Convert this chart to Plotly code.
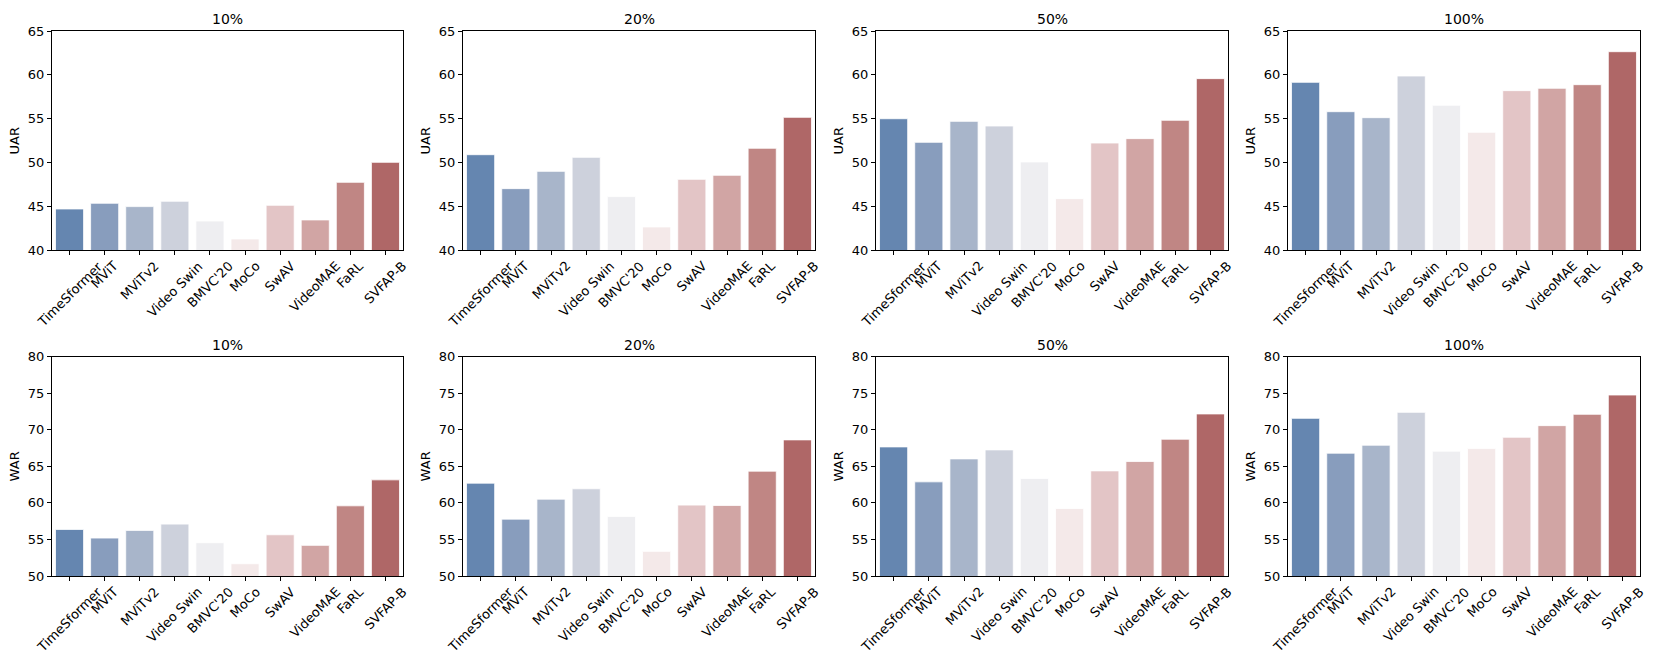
import plotly.graph_objects as go

models = ["TimeSformer", "MViT", "MViTv2", "Video Swin", "BMVC'20",
          "MoCo", "SwAV", "VideoMAE", "FaRL", "SVFAP-B"]
fractions = ["10%", "20%", "50%", "100%"]

uar_10 = [44.71, 45.36, 44.98, 45.59, 43.34, 41.29, 45.13, 43.46, 47.75, 50.03]
uar_20 = [50.90, 47.03, 49.00, 50.60, 46.12, 42.66, 48.09, 48.55, 51.63, 55.16]
uar_50 = [55.00, 52.31, 54.70, 54.17, 50.07, 45.89, 52.23, 52.73, 54.82, 59.57]
uar_100 = [59.15, 55.80, 55.12, 59.87, 56.53, 53.45, 58.20, 58.47, 58.88, 62.64]
war_10 = [56.37, 55.19, 56.24, 57.10, 54.55, 51.68, 55.64, 54.19, 59.60, 63.15]
war_20 = [62.70, 57.78, 60.51, 61.93, 58.15, 53.37, 59.70, 59.65, 64.34, 68.62]
war_50 = [67.66, 62.88, 66.02, 67.25, 63.34, 59.24, 64.38, 65.66, 68.71, 72.17]
war_100 = [71.57, 66.80, 67.89, 72.39, 67.07, 67.43, 68.98, 70.57, 72.12, 74.76]

uar_rows = [uar_10, uar_20, uar_50, uar_100]
war_rows = [war_10, war_20, war_50, war_100]

colors = ["#6586B0", "#889DBD", "#A8B5CA", "#CDD1DC", "#EEEEF1",
          "#F4E9E9", "#E3C5C6", "#D1A5A4", "#C08684", "#AF6767"]

W, H = 1661, 664
ML, MR, MT, MB = 52, 21, 31, 88
PW, PH = W - ML - MR, H - MT - MB
col_px = [(51.7, 403), (463, 815), (876, 1228), (1288, 1640)]
row_px = [(31, 250.3), (356.7, 576.3)]

def xdom(c):
    a, b = col_px[c]
    return [max(0, (a - ML) / PW), min(1, (b - ML) / PW)]

def ydom(r):
    a, b = row_px[r]
    return [max(0, (H - MB - b) / PH), min(1, (H - MB - a) / PH)]

FONT = "DejaVu Sans"
TICK = 13
fig = go.Figure()
annotations = []
panels = []
for r, (rows, metric, yr) in enumerate([(uar_rows, "UAR", [40, 65]), (war_rows, "WAR", [50, 80])]):
    for c in range(4):
        idx = r * 4 + c + 1
        panels.append((idx, rows[c], metric, yr, r, c))

for idx, vals, metric, yr, r, c in panels:
    xa = "x" if idx == 1 else f"x{idx}"
    ya = "y" if idx == 1 else f"y{idx}"
    fig.add_trace(go.Bar(
        x=models, y=vals, xaxis=xa, yaxis=ya,
        marker=dict(color=colors, line=dict(color="white", width=0.8)),
        showlegend=False, hoverinfo="x+y"))
    xk = "xaxis" if idx == 1 else f"xaxis{idx}"
    yk = "yaxis" if idx == 1 else f"yaxis{idx}"
    fig.layout[xk] = dict(
        domain=xdom(c), anchor=ya, range=[-0.5, 9.5], type="category",
        categoryorder="array", categoryarray=models,
        showticklabels=False, ticks="outside", ticklen=4, tickwidth=1,
        tickcolor="black", showline=True, linecolor="black", linewidth=1,
        mirror=True, showgrid=False, zeroline=False, fixedrange=True)
    fig.layout[yk] = dict(
        domain=ydom(r), anchor=xa, range=yr, dtick=5, tick0=0,
        ticks="outside", ticklen=4, tickwidth=1, tickcolor="black",
        showline=True, linecolor="black", linewidth=1, mirror=True,
        showgrid=False, zeroline=False, fixedrange=True,
        tickfont=dict(family=FONT, size=TICK, color="black"),
        title=dict(text=metric, standoff=5,
                   font=dict(family=FONT, size=TICK, color="black")))
    # panel title
    annotations.append(dict(
        text=fractions[c], xref=f"{xa} domain", yref=f"{ya} domain",
        x=0.5, y=1, xanchor="center", yanchor="bottom", yshift=2,
        showarrow=False, font=dict(family=FONT, size=14, color="black")))
    # rotated category labels, centred under each tick
    for m in models:
        annotations.append(dict(
            text=m, xref=xa, yref=f"{ya} domain", x=m, y=0,
            xanchor="center", yanchor="top", yshift=-7, textangle=-45,
            showarrow=False, borderpad=0,
            font=dict(family=FONT, size=TICK, color="black")))

fig.update_layout(
    width=W, height=H, margin=dict(l=ML, r=MR, t=MT, b=MB),
    paper_bgcolor="white", plot_bgcolor="white",
    bargap=0.2, annotations=annotations,
    font=dict(family=FONT, size=TICK, color="black"))

fig.write_html("out.html", config={"displayModeBar": False},
               post_script="document.body.style.margin='0';"
                           "document.body.style.overflow='hidden';")
